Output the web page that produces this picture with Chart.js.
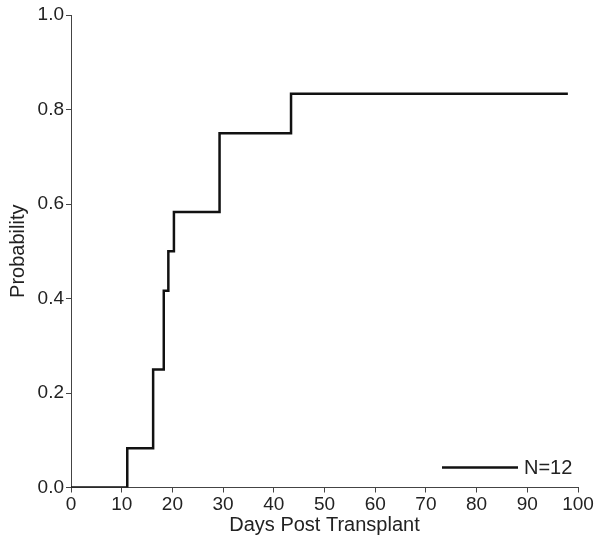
<!DOCTYPE html>
<html>
<head>
<meta charset="utf-8">
<script src="https://cdn.jsdelivr.net/npm/chart.js@4/dist/chart.umd.min.js"></script>
<style>
  html, body { margin: 0; padding: 0; background: #fff; }
  #wrap { width: 602px; height: 551px; }
</style>
</head>
<body>
<div id="wrap"><canvas id="grafico" width="602" height="551"></canvas></div>
<script>
// Datos (incidencia acumulada, N=12)
const dias = [0, 11.1, 16.2, 18.3, 19.2, 20.3, 29.3, 43.4, 98];
const probabilidad = [0, 1 / 12, 3 / 12, 5 / 12, 6 / 12, 7 / 12, 9 / 12, 10 / 12, 10 / 12];
const etiquetaSerie = 'N=12';
const ticksX = [0, 10, 20, 30, 40, 50, 60, 70, 80, 90, 100];
const ticksY = [0, 0.2, 0.4, 0.6, 0.8, 1.0];

const familia = '"Liberation Sans", Arial, sans-serif';
const fuenteTicks = { family: familia, size: 19 };
const fuenteTitulo = { family: familia, size: 20 };
const tinta = '#222';

// Leyenda dibujada dentro del área del gráfico, abajo a la derecha
const leyendaInterna = {
    id: 'leyendaInterna',
    afterDraw(chart) {
        const { ctx, chartArea } = chart;
        const y = chartArea.bottom - 20;
        ctx.save();
        ctx.strokeStyle = '#111';
        ctx.lineWidth = 2.5;
        ctx.beginPath();
        ctx.moveTo(chartArea.right - 136, y);
        ctx.lineTo(chartArea.right - 60, y);
        ctx.stroke();
        ctx.fillStyle = tinta;
        ctx.font = '20px ' + familia;
        ctx.textBaseline = 'middle';
        ctx.fillText(etiquetaSerie, chartArea.right - 54, y + 1);
        ctx.restore();
    }
};

new Chart(document.getElementById('grafico').getContext('2d'), {
    type: 'scatter',
    data: {
        datasets: [{
            label: etiquetaSerie,
            data: dias.map((d, i) => ({ x: d, y: probabilidad[i] })),
            showLine: true,
            stepped: 'before',
            borderColor: '#111',
            borderWidth: 2.5,
            pointRadius: 0,
            fill: false
        }]
    },
    options: {
        responsive: false,
        animation: false,
        layout: { padding: { top: 15, right: 24, left: 0, bottom: 0 } },
        plugins: {
            legend: { display: false },
            tooltip: { enabled: false }
        },
        scales: {
            x: {
                type: 'linear',
                min: 0,
                max: 100,
                afterBuildTicks: (scale) => { scale.ticks = ticksX.map(v => ({ value: v })); },
                afterFit: (scale) => { scale.height = 63.5; },
                ticks: { color: tinta, font: fuenteTicks, padding: 1, maxRotation: 0 },
                grid: { drawOnChartArea: false, drawTicks: true, tickLength: 5, color: '#444', lineWidth: 1 },
                border: { display: true, color: '#444', width: 1 },
                title: {
                    display: true,
                    text: 'Days Post Transplant',
                    color: tinta,
                    font: fuenteTitulo,
                    padding: { top: 0, bottom: 14 }
                }
            },
            y: {
                type: 'linear',
                min: 0,
                max: 1,
                afterBuildTicks: (scale) => { scale.ticks = ticksY.map(v => ({ value: v })); },
                afterFit: (scale) => { scale.width = 71; },
                ticks: {
                    color: tinta,
                    font: fuenteTicks,
                    padding: 2,
                    callback: (v) => Number(v).toFixed(1)
                },
                grid: { drawOnChartArea: false, drawTicks: true, tickLength: 5, color: '#444', lineWidth: 1 },
                border: { display: true, color: '#444', width: 1 },
                title: {
                    display: true,
                    text: 'Probability',
                    color: tinta,
                    font: fuenteTitulo,
                    padding: { top: 6, bottom: 0 }
                }
            }
        }
    },
    plugins: [leyendaInterna]
});
</script>
</body>
</html>
